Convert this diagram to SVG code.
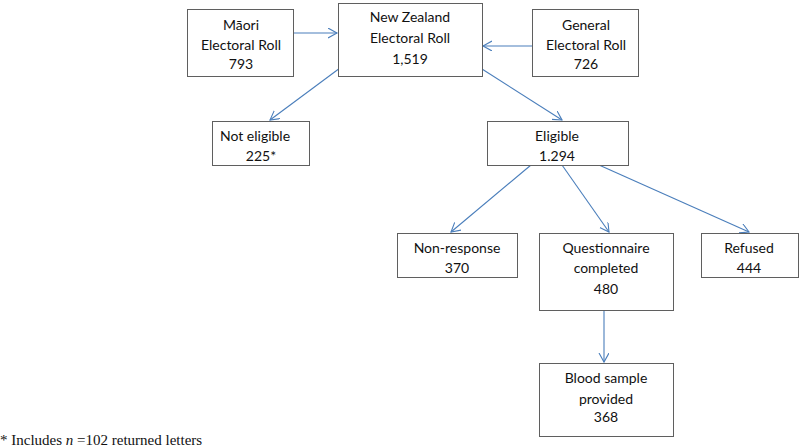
<svg xmlns="http://www.w3.org/2000/svg" width="800" height="448" viewBox="0 0 800 448">
<style>
.box{fill:#fff;stroke:#5f5f5f;stroke-width:1}
.t{font-family:Lato,"Open Sans","Liberation Sans",sans-serif;font-size:14px;fill:#111;text-anchor:middle}
.c{fill:none;stroke:#4a7ebb;stroke-width:1.1;marker-end:url(#ah)}
.fn{font-family:"Liberation Serif","Times New Roman",serif;font-size:15px;fill:#111}
</style>
<defs>
<marker id="ah" markerUnits="userSpaceOnUse" markerWidth="12" markerHeight="12" refX="9" refY="5" orient="auto">
<path d="M0,0 L9,5 L0,10" fill="none" stroke="#4a7ebb" stroke-width="1.1"/>
</marker>
</defs>
<rect width="800" height="448" fill="#fff"/>
<g id="connectors">
<line class="c" x1="293" y1="33" x2="337" y2="33"/>
<line class="c" x1="532" y1="46" x2="483" y2="46"/>
<line class="c" x1="340" y1="68" x2="270" y2="120"/>
<line class="c" x1="482" y1="69" x2="562" y2="120"/>
<line class="c" x1="531" y1="165" x2="451" y2="232"/>
<line class="c" x1="562" y1="165" x2="609" y2="232"/>
<line class="c" x1="599" y1="165" x2="749" y2="232"/>
<line class="c" x1="604" y1="311" x2="604" y2="362"/>
</g>
<g id="maori">
<rect class="box" x="187.5" y="9.5" width="106" height="67"/>
<text class="t" x="241" y="30">Māori</text>
<text class="t" x="241" y="50">Electoral Roll</text>
<text class="t" x="241" y="69">793</text>
</g>
<g id="nz">
<rect class="box" x="338.5" y="3.5" width="144" height="73"/>
<text class="t" x="410" y="22">New Zealand</text>
<text class="t" x="410" y="43">Electoral Roll</text>
<text class="t" x="410" y="64">1,519</text>
</g>
<g id="general">
<rect class="box" x="532.5" y="9.5" width="106" height="67"/>
<text class="t" x="586" y="30">General</text>
<text class="t" x="586" y="50">Electoral Roll</text>
<text class="t" x="586" y="69">726</text>
</g>
<g id="noteligible">
<rect class="box" x="212.5" y="121.5" width="97" height="44"/>
<text class="t" x="255" y="141">Not eligible</text>
<text class="t" x="261" y="161">225*</text>
</g>
<g id="eligible">
<rect class="box" x="487.5" y="121.5" width="141" height="44"/>
<text class="t" x="557" y="141">Eligible</text>
<text class="t" x="557" y="161">1.294</text>
</g>
<g id="nonresponse">
<rect class="box" x="397.5" y="233.5" width="120" height="44"/>
<text class="t" x="457" y="253">Non-response</text>
<text class="t" x="457" y="273">370</text>
</g>
<g id="questionnaire">
<rect class="box" x="539.5" y="233.5" width="134" height="77"/>
<text class="t" x="606" y="253">Questionnaire</text>
<text class="t" x="606" y="273">completed</text>
<text class="t" x="606" y="294">480</text>
</g>
<g id="refused">
<rect class="box" x="701.5" y="233.5" width="97" height="44"/>
<text class="t" x="749" y="253">Refused</text>
<text class="t" x="749" y="273">444</text>
</g>
<g id="blood">
<rect class="box" x="539.5" y="363.5" width="134" height="73"/>
<text class="t" x="606" y="383">Blood sample</text>
<text class="t" x="606" y="404">provided</text>
<text class="t" x="606" y="422">368</text>
</g>
<text class="fn" x="0" y="445">* Includes <tspan font-style="italic">n</tspan> =102 returned letters</text>
</svg>
